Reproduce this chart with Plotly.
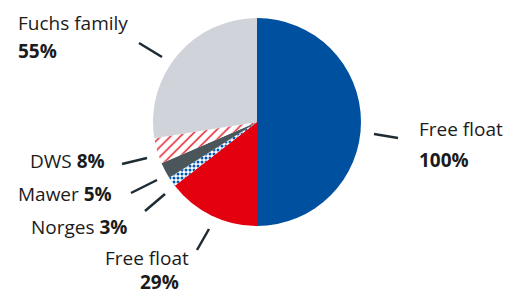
import plotly.graph_objects as go

# Data
labels = ["Free float", "Free float", "Norges", "Mawer", "DWS", "Fuchs family"]
share_class = ["Preference", "Ordinary", "Ordinary", "Ordinary", "Ordinary", "Ordinary"]
share_pct = [100, 29, 3, 5, 8, 55]            # share within share class (%)
class_weight = [0.5, 0.5, 0.5, 0.5, 0.5, 0.5]  # preference / ordinary shares, half each
values = [p * w for p, w in zip(share_pct, class_weight)]
slice_ids = [f"{c} – {l}" for c, l in zip(share_class, labels)]

colors = ["#0050a0", "#e3000f", "#ffffff", "#4b565b", "#ffffff", "#d0d4da"]
pat_shapes = ["", "", ".", "", "/", ""]
pat_fg = ["#0050a0", "#e3000f", "#0057b0", "#4b565b", "#e3000f", "#d0d4da"]

W, H = 512, 293
cx, cy, r = 257, 122, 104

fig = go.Figure(go.Pie(
    labels=slice_ids, values=values, sort=False, direction="clockwise", rotation=0,
    textinfo="none", hoverinfo="skip", showlegend=False,
    marker=dict(colors=colors, line=dict(width=0),
                pattern=dict(shape=pat_shapes, fgcolor=pat_fg, bgcolor="#ffffff",
                             size=[6, 6, 4, 6, 7, 6], solidity=[0.3, 0.3, 0.45, 0.3, 0.18, 0.3],
                             fillmode="replace")),
    domain=dict(x=[(cx - r) / W, (cx + r) / W], y=[(H - cy - r) / H, (H - cy + r) / H]),
))

def px(x):
    return x / W

def py(y):
    return 1 - y / H

txt_color = "#1b1b1b"
font = dict(family="Open Sans, Noto Sans, sans-serif", size=19, color=txt_color)

# (text, x, y, xanchor)
ann = [
    (labels[5], 16, 23, "left"),
    (f"<b>{share_pct[5]}%</b>", 16, 51, "left"),
    (labels[0], 417, 129, "left"),
    (f"<b>{share_pct[0]}%</b>", 417, 160, "left"),
    (f"{labels[4]} <b>{share_pct[4]}%</b>", 107, 161, "right"),
    (f"{labels[3]} <b>{share_pct[3]}%</b>", 114, 194, "right"),
    (f"{labels[2]} <b>{share_pct[2]}%</b>", 129, 227, "right"),
    (labels[1], 191, 258, "right"),
    (f"<b>{share_pct[1]}%</b>", 181, 282, "right"),
]
for t, x, y, xa in ann:
    fig.add_annotation(text=t, x=px(x), y=py(y), xref="paper", yref="paper",
                       xanchor=xa, yanchor="middle", showarrow=False, font=font)

leaders = [
    (139, 43, 162, 57),
    (374, 134, 398, 138),
    (122, 164, 147, 158),
    (131, 193, 157, 180),
    (145, 211, 165, 194),
    (197, 250, 209, 229),
]
for x0, y0, x1, y1 in leaders:
    fig.add_shape(type="line", x0=px(x0), y0=py(y0), x1=px(x1), y1=py(y1),
                  xref="paper", yref="paper", line=dict(color="#1e2b33", width=2.5))

fig.update_layout(width=W, height=H, margin=dict(l=0, r=0, t=0, b=0),
                  paper_bgcolor="white", plot_bgcolor="white")

fig.write_html("out.html", config={"displayModeBar": False},
               post_script="document.body.style.margin='0';document.body.style.overflow='hidden';")
